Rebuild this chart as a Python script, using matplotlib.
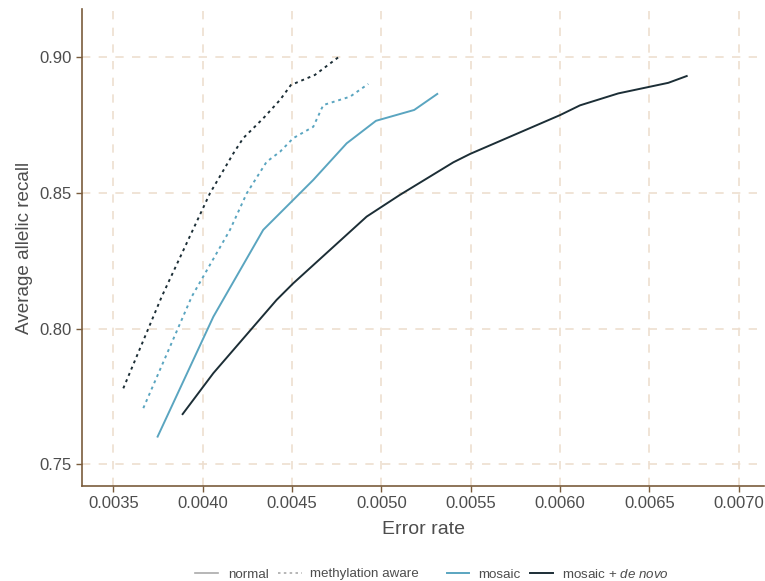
import matplotlib
matplotlib.use("Agg")
import matplotlib.pyplot as plt
from matplotlib.lines import Line2D

plt.rcParams['font.family'] = ['Liberation Sans', 'DejaVu Sans']
plt.rcParams['mathtext.fontset'] = 'custom'
plt.rcParams['mathtext.it'] = 'Liberation Sans:italic'
plt.rcParams['mathtext.rm'] = 'Liberation Sans'

# Data
normal_x = [0.003556, 0.003771, 0.004041, 0.004172, 0.004227, 0.004339, 0.004433, 0.004494, 0.004628, 0.004759]
normal_y = [0.778, 0.8118, 0.8499, 0.8646, 0.8702, 0.8775, 0.8843, 0.8898, 0.8935, 0.900]

meth_x = [0.003668, 0.003939, 0.004153, 0.004247, 0.004358, 0.004433, 0.004507, 0.004619, 0.004675, 0.004825, 0.004927]
meth_y = [0.7707, 0.8118, 0.8364, 0.8499, 0.8615, 0.8652, 0.8702, 0.8744, 0.8824, 0.8855, 0.8902]

mosaic_x = [0.003748, 0.00406, 0.004339, 0.004619, 0.004806, 0.00497, 0.005184, 0.005313]
mosaic_y = [0.7602, 0.8044, 0.8364, 0.8548, 0.8683, 0.8766, 0.8806, 0.8865]

denovo_x = [0.003888, 0.00406, 0.004414, 0.004507, 0.004918, 0.005104, 0.005403, 0.005497, 0.0060, 0.006112, 0.006326, 0.006606, 0.006709]
denovo_y = [0.7685, 0.7836, 0.8106, 0.8167, 0.8413, 0.8493, 0.8613, 0.8644, 0.8787, 0.8823, 0.8867, 0.8906, 0.8931]

x_ticks = [0.0035, 0.0040, 0.0045, 0.0050, 0.0055, 0.0060, 0.0065, 0.0070]
y_ticks = [0.75, 0.80, 0.85, 0.90]

legend_labels = ["normal", "methylation aware", "mosaic", "mosaic + $\\it{de\\ novo}$"]

BLUE = "#5AA5C0"
DARK = "#1C2E36"
SPINE = "#7A5C3C"
GRID = "#EEDFD0"
TXT = "#4D4D4D"
LEG_GRAY = "#AAAAAA"

W, H = 765, 581
fig = plt.figure(figsize=(W / 100, H / 100), dpi=100)
ax = fig.add_axes([82.3/W, 1 - 486/H, (764 - 82.3)/W, (486 - 9.3)/H])

ax.plot(normal_x, normal_y, color=DARK, lw=1.4, ls=(0, (1.5, 2)))
ax.plot(meth_x, meth_y, color=BLUE, lw=1.4, ls=(0, (1.5, 2)))
ax.plot(mosaic_x, mosaic_y, color=BLUE, lw=1.4)
ax.plot(denovo_x, denovo_y, color=DARK, lw=1.4)

ax.set_xlim(0.0033265, 0.0071416)
ax.set_ylim(0.742, 0.9177)
ax.set_xticks(x_ticks)
ax.set_xticklabels([f"{v:.4f}" for v in x_ticks])
ax.set_yticks(y_ticks)
ax.set_yticklabels([f"{v:.2f}" for v in y_ticks])

ax.grid(True, color=GRID, ls=(0, (5, 5)), lw=1.2)
ax.set_axisbelow(True)
for s in ["top", "right"]:
    ax.spines[s].set_visible(False)
for s in ["left", "bottom"]:
    ax.spines[s].set_color(SPINE)
    ax.spines[s].set_linewidth(1.2)
ax.tick_params(axis="both", colors=SPINE, labelcolor=TXT, labelsize=12, length=4, width=1.0)

ax.set_xlabel("Error rate", fontsize=14, color=TXT, labelpad=7)
ax.set_ylabel("Average allelic recall", fontsize=13.6, color=TXT, labelpad=5)

# Legend drawn manually (handles + texts aligned on a common baseline)
leg_styles = [
    dict(color=LEG_GRAY, lw=1.2, ls="-"),
    dict(color=LEG_GRAY, lw=1.2, ls=(0, (1.5, 2))),
    dict(color=BLUE, lw=1.4, ls="-"),
    dict(color=DARK, lw=1.4, ls="-"),
]
handle_x = [(195, 218), (278, 302), (447, 469), (530, 553)]
text_x = [228, 310, 478, 562]
handle_y = 573
baseline_y = 577.5
for (x0, x1), tx, st, lab in zip(handle_x, text_x, leg_styles, legend_labels):
    fig.add_artist(Line2D([x0 / W, x1 / W], [1 - handle_y / H] * 2,
                          transform=fig.transFigure, **st))
    fig.text(tx / W, 1 - baseline_y / H, lab, fontsize=9.6, color=TXT,
             ha="left", va="baseline")

fig.savefig("out.png", dpi=100)
